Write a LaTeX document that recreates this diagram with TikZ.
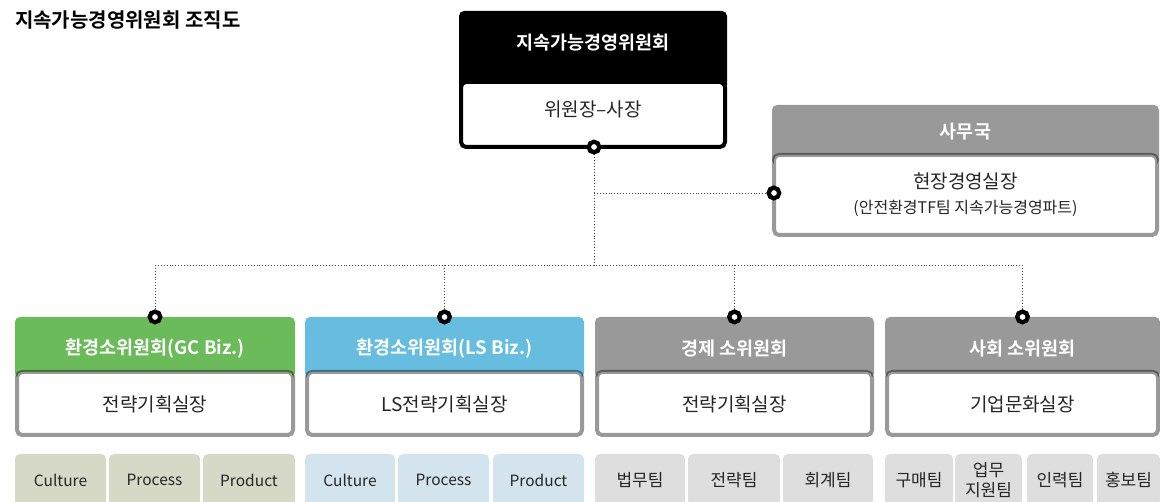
\documentclass[tikz,border=0pt]{standalone}
\usepackage{fontspec}
\setmainfont{Noto Sans CJK KR}[BoldFont={Noto Sans CJK KR Bold}]
\definecolor{cgreen}{HTML}{6BBB5B}
\definecolor{cblue}{HTML}{67BDE0}
\definecolor{cgray}{HTML}{999999}
\definecolor{tgreen}{HTML}{D5D9C6}
\definecolor{tblue}{HTML}{D4E4EF}
\definecolor{tgray}{HTML}{DEDEDE}
\begin{document}
\begin{tikzpicture}[x=1pt,y=-1pt,
  box/.style={rounded corners=5pt, inner sep=0pt, outer sep=0pt},
  hdr/.style={box},
  hlabel/.style={text=white, font=\bfseries\fontsize{18.5}{22}\selectfont, inner sep=0pt},
  wbox/.style={box, fill=white, draw=black, draw opacity=0.4, line width=4pt},
  wlabel/.style={font=\fontsize{19}{22}\selectfont, inner sep=0pt, text=black!85},
  team/.style={box, font=\fontsize{17}{20}\selectfont, text=black!85, align=center},
  lteam/.style={team, font=\fontsize{15.5}{18}\selectfont},
  ring/.style={circle, draw=black, fill=white, line width=4.2pt, minimum size=10.5pt, inner sep=0pt},
  dotl/.style={dotted, line width=0.9pt, draw=black!70}]
\useasboundingbox (0,0) rectangle (1160,502);
\clip (0,0) rectangle (1160,502);

% title
\node[anchor=west, font=\bfseries\fontsize{20}{24}\selectfont, inner sep=0pt] (title) at (15,20) {지속가능경영위원회 조직도};

% junction coordinates
\coordinate (j0) at (594,193);
\coordinate (j1) at (594,265);
\coordinate (jl) at (155,265);
\coordinate (jr) at (1022.5,265);
\coordinate (j2) at (444.5,265);
\coordinate (j3) at (734.5,265);

% rings (positions)
\node[ring] (r0) at (594,147) {};
\node[ring] (rs) at (774,193) {};
\node[ring] (r1) at (155,317) {};
\node[ring] (r2) at (444.5,317) {};
\node[ring] (r3) at (734.5,317) {};
\node[ring] (r4) at (1022.5,317) {};

% dotted connectors
\draw[dotl] (r0) -- (j0) -- (j1);
\draw[dotl] (j0) -- (rs);
\draw[dotl] (jl) -- (jr);
\draw[dotl] (jl) -- (r1);
\draw[dotl] (j2) -- (r2);
\draw[dotl] (j3) -- (r3);
\draw[dotl] (jr) -- (r4);

% top committee
\node[hdr, fill=black, minimum width=268pt, minimum height=79pt] (top) at (593,50.5) {};
\node[hlabel] (topl) at (593,43) {지속가능경영위원회};
\node[wbox, draw=black, draw opacity=1, minimum width=264pt, minimum height=65pt] (chair) at (593,114.5) {};
\node[wlabel] (chairl) at (593,109) {위원장–사장};

% secretariat
\node[hdr, fill=cgray, minimum width=387pt, minimum height=60pt] (sec) at (965.5,135) {};
\node[hlabel] (secl) at (965.5,132) {사무국};
\node[wbox, minimum width=383pt, minimum height=80pt] (secb) at (965.5,195) {};
\node[wlabel] (secl1) at (965.5,181) {현장경영실장};
\node[wlabel, font=\fontsize{16}{19}\selectfont] (secl2) at (965.5,208) {(안전환경TF팀 지속가능경영파트)};

% subcommittees
\node[hdr, fill=cgreen, minimum width=280pt, minimum height=61pt] (h1) at (155,347.5) {};
\node[hlabel] (h1l) at (155,349) {환경소위원회(GC Biz.)};
\node[wbox, minimum width=276pt, minimum height=63pt] (b1) at (155,403.5) {};
\node[wlabel] (b1l) at (155,404) {전략기획실장};

\node[hdr, fill=cblue, minimum width=279pt, minimum height=61pt] (h2) at (444.5,347.5) {};
\node[hlabel] (h2l) at (444.5,349) {환경소위원회(LS Biz.)};
\node[wbox, minimum width=275pt, minimum height=63pt] (b2) at (444.5,403.5) {};
\node[wlabel] (b2l) at (444.5,404) {LS전략기획실장};

\node[hdr, fill=cgray, minimum width=279pt, minimum height=61pt] (h3) at (734.5,347.5) {};
\node[hlabel] (h3l) at (734.5,349) {경제 소위원회};
\node[wbox, minimum width=275pt, minimum height=63pt] (b3) at (734.5,403.5) {};
\node[wlabel] (b3l) at (734.5,404) {전략기획실장};

\node[hdr, fill=cgray, minimum width=275pt, minimum height=61pt] (h4) at (1022.5,347.5) {};
\node[hlabel] (h4l) at (1022.5,349) {사회 소위원회};
\node[wbox, minimum width=271pt, minimum height=63pt] (b4) at (1022.5,403.5) {};
\node[wlabel] (b4l) at (1022.5,404) {기업문화실장};

% rings on top again
\node[ring] at (r0) {};
\node[ring] at (rs) {};
\node[ring] at (r1) {};
\node[ring] at (r2) {};
\node[ring] at (r3) {};
\node[ring] at (r4) {};

% teams
\node[lteam, fill=tgreen, minimum width=91pt, minimum height=52pt] (t11) at (60.5,480) {Culture};
\node[lteam, fill=tgreen, minimum width=91pt, minimum height=52pt] (t12) at (154.5,480) {Process};
\node[lteam, fill=tgreen, minimum width=92pt, minimum height=52pt] (t13) at (249,480) {Product};

\node[lteam, fill=tblue, minimum width=90pt, minimum height=52pt] (t21) at (350,480) {Culture};
\node[lteam, fill=tblue, minimum width=91pt, minimum height=52pt] (t22) at (443.5,480) {Process};
\node[lteam, fill=tblue, minimum width=91pt, minimum height=52pt] (t23) at (538.5,480) {Product};

\node[team, fill=tgray, minimum width=90pt, minimum height=52pt] (t31) at (640,480) {법무팀};
\node[team, fill=tgray, minimum width=92pt, minimum height=52pt] (t32) at (734,480) {전략팀};
\node[team, fill=tgray, minimum width=90pt, minimum height=52pt] (t33) at (828,480) {회계팀};

\node[team, fill=tgray, minimum width=68pt, minimum height=52pt] (t41) at (919,480) {구매팀};
\node[team, fill=tgray, minimum width=67pt, minimum height=52pt] (t42) at (988.5,480) {업무\\지원팀};
\node[team, fill=tgray, minimum width=66pt, minimum height=52pt] (t43) at (1060,480) {인력팀};
\node[team, fill=tgray, minimum width=63pt, minimum height=52pt] (t44) at (1128.5,480) {홍보팀};
\end{tikzpicture}
\end{document}
